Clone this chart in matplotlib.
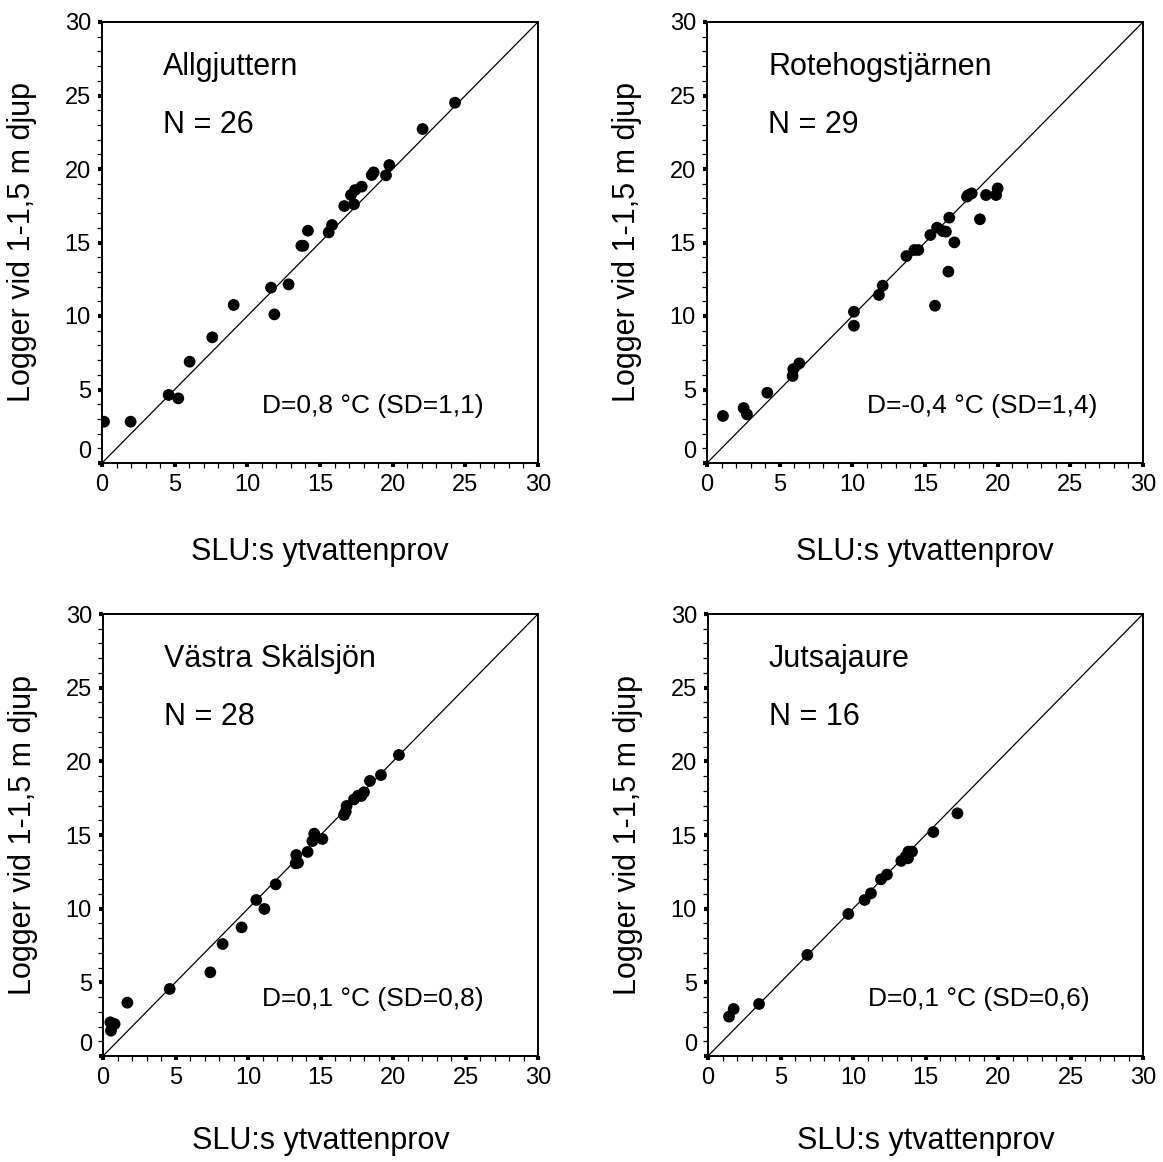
import numpy as np
import matplotlib
matplotlib.use("Agg")
import matplotlib.pyplot as plt

plt.rcParams['font.family'] = ['Liberation Sans', 'DejaVu Sans']

#Data (x = SLU surface sample, y = logger)
allg_x = [0.14, 1.97, 4.59, 5.25, 6.03, 7.59, 9.06, 11.63, 11.86, 12.84, 13.72, 13.85, 14.17,
          15.60, 15.83, 16.67, 17.34, 17.13, 17.41, 17.87, 18.56, 18.69, 19.54, 19.77, 22.06, 24.29]
allg_y = [2.81, 2.81, 4.63, 4.40, 6.89, 8.55, 10.75, 11.93, 10.11, 12.15, 14.78, 14.78, 15.80,
          15.69, 16.19, 17.48, 17.60, 18.23, 18.57, 18.80, 19.59, 19.77, 19.57, 20.27, 22.72, 24.51]

rote_x = [1.10, 2.52, 2.75, 4.15, 5.89, 5.94, 6.35, 10.11, 10.11, 11.83, 12.09, 13.72, 14.27, 14.54,
          15.37, 15.69, 15.83, 16.22, 16.44, 16.61, 16.67, 17.02, 17.89, 17.98, 18.21, 18.78,
          19.20, 19.89, 20.00]
rote_y = [3.20, 3.74, 3.31, 4.78, 5.92, 6.39, 6.78, 10.29, 9.34, 11.43, 12.06, 14.08, 14.49, 14.49,
          15.51, 10.70, 16.01, 15.78, 15.74, 13.02, 16.69, 15.01, 18.12, 18.23, 18.34, 16.58,
          18.23, 18.23, 18.68]

vast_x = [0.51, 0.80, 0.55, 1.68, 4.60, 7.40, 8.25, 9.56, 10.57, 11.13, 11.91, 13.29, 13.45, 13.33,
          14.11, 14.44, 14.57, 15.13, 16.62, 16.74, 16.80, 17.31, 17.59, 17.82, 18.00, 18.41,
          19.17, 20.41]
vast_y = [2.29, 2.17, 1.72, 3.62, 4.55, 5.68, 7.60, 8.73, 10.59, 9.98, 11.65, 13.08, 13.12, 13.64,
          13.85, 14.59, 15.09, 14.73, 16.36, 16.58, 16.97, 17.42, 17.67, 17.65, 17.90, 18.67,
          19.07, 20.43]

juts_x = [1.45, 1.77, 3.52, 6.85, 9.68, 10.80, 11.24, 11.93, 12.34, 13.33, 13.79, 13.63, 13.82,
          14.07, 15.54, 17.20]
juts_y = [2.67, 3.19, 3.53, 6.86, 9.64, 10.59, 11.04, 11.99, 12.31, 13.24, 13.42, 13.53, 13.87,
          13.87, 15.20, 16.47]

lakes = ["Allgjuttern", "Rotehogstjärnen", "Västra Skälsjön", "Jutsajaure"]
n_text = ["N = 26", "N = 29", "N = 28", "N = 16"]
d_text = ["D=0,8 °C (SD=1,1)", "D=-0,4 °C (SD=1,4)", "D=0,1 °C (SD=0,8)", "D=0,1 °C (SD=0,6)"]
xs = [allg_x, rote_x, vast_x, juts_x]
ys = [allg_y, rote_y, vast_y, juts_y]

W, H = 1163, 1162
fig = plt.figure(figsize=(W / 100, H / 100), dpi=100)

#axes boxes in pixels: left, top, right, bottom
boxes = [(102, 22, 538, 463), (707, 22, 1143, 463),
         (103, 614, 538, 1056), (708, 614, 1143, 1056)]
xlab_y = [-0.168, -0.168, -0.158, -0.158]

for i in range(4):
    l, t, r, b = boxes[i]
    ax = fig.add_axes([l / W, 1 - b / H, (r - l) / W, (b - t) / H])
    ax.plot([0, 30], [0, 30], color='black', lw=0.9, zorder=1)
    ax.scatter(xs[i], ys[i], s=72, color='black', edgecolors='none', zorder=3)
    ax.set_xlim(0, 30)
    ax.set_ylim(0, 30)
    ax.set_xticks(np.arange(0, 31, 5))
    ax.set_yticks(np.arange(0, 31, 5))
    ax.set_xticks(np.arange(0, 31, 1), minor=True)
    ax.set_yticks(np.arange(0, 31, 1), minor=True)
    ax.tick_params(which='major', direction='out', length=3, width=3, labelsize=17, pad=5)
    ax.tick_params(which='minor', direction='out', length=3.5, width=0.9)
    for sp in ax.spines.values():
        sp.set_linewidth(1.4)
    ax.yaxis.get_majorticklabels()[0].set_verticalalignment('bottom')
    ax.text(4.2, 26.4, lakes[i], fontsize=22)
    ax.text(4.2, 22.45, n_text[i], fontsize=22)
    ax.text(11.0, 3.4, d_text[i], fontsize=19)
    ax.set_xlabel("SLU:s ytvattenprov", fontsize=22)
    ax.set_ylabel("Logger vid 1-1,5 m djup", fontsize=22)
    ax.xaxis.set_label_coords(0.5, xlab_y[i])
    ax.yaxis.set_label_coords(-0.15, 0.5)

plt.savefig("out.png", dpi=100)
